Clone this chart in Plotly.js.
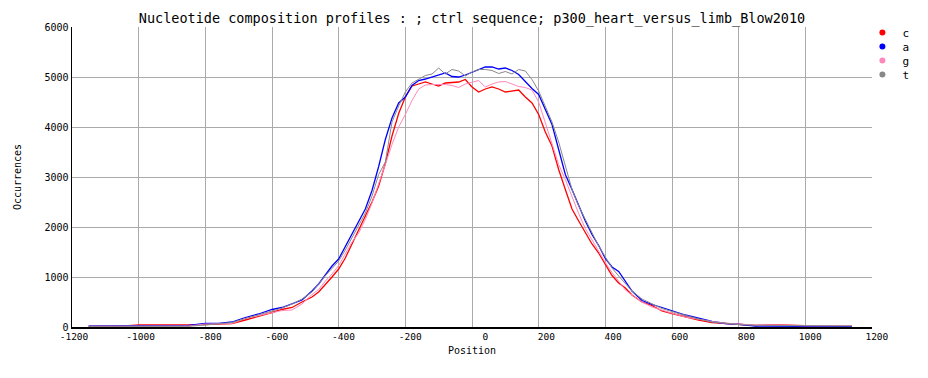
<!DOCTYPE html>
<html>
<head>
<meta charset="utf-8">
<script src="https://cdn.plot.ly/plotly-3.0.1.min.js"></script>
<style>body{margin:0;background:#fff}#chart{width:928px;height:378px}</style>
</head>
<body>
<div id="chart"></div>
<script>
const positions = [-1150,-1100,-1050,-1000,-950,-900,-850,-800,-760,-720,-680,-640,-600,-570,-540,-510,
  -480,-460,-440,-420,-400,-380,-360,-340,-320,-300,-280,-260,-240,-220,-200,-180,-160,-140,-120,-100,-80,-60,-40,-20,
  0,20,40,60,80,100,120,140,160,180,200,220,240,260,280,300,320,340,360,380,400,420,440,460,480,
  510,540,570,600,640,680,720,760,800,850,900,950,1000,1050,1100,1140];

const c_counts = [10,10,15,40,35,40,40,50,55,70,140,210,290,350,390,500,
  600,700,840,1000,1160,1380,1660,1940,2200,2500,2820,3270,3820,4270,4600,4820,4860,4900,4860,4820,4880,4890,4900,4950,
  4800,4700,4760,4800,4760,4700,4720,4740,4600,4480,4250,3900,3620,3150,2750,2360,2120,1900,1660,1480,1260,1030,880,780,640,
  500,430,320,270,200,140,90,70,45,30,45,30,15,15,10,10];

const a_counts = [20,20,20,20,25,25,30,70,70,100,190,260,350,390,460,540,
  720,860,1040,1220,1360,1610,1870,2120,2360,2730,3210,3750,4180,4480,4600,4830,4930,4960,5000,5030,5080,5010,5000,5040,
  5090,5150,5200,5200,5160,5180,5130,5050,4900,4770,4650,4350,4050,3550,3050,2750,2430,2120,1850,1630,1370,1200,1110,920,720,
  530,450,390,320,240,175,110,70,55,20,20,20,15,15,10,10];

const g_counts = [15,15,15,15,15,15,20,60,65,70,170,230,300,330,340,460,
  650,750,920,1060,1230,1460,1700,1880,2150,2480,2850,3250,3650,4000,4250,4530,4760,4840,4850,4850,4850,4830,4790,4860,
  4890,4930,4800,4860,4900,4910,4860,4810,4790,4740,4500,4080,3650,3250,2950,2600,2270,1970,1740,1510,1290,1090,910,740,640,
  500,400,330,275,200,150,110,75,55,40,45,30,25,25,30,30];

const t_counts = [15,15,15,15,15,15,15,40,60,90,170,240,320,380,460,560,
  700,860,1030,1170,1320,1540,1780,2020,2280,2620,3050,3300,4100,4420,4700,4880,4950,5030,5060,5180,5060,5150,5120,5020,
  5100,5150,5150,5130,5070,5110,5060,5150,5120,4950,4720,4420,4100,3700,3200,2750,2420,2150,1880,1620,1400,1180,1020,880,720,
  560,460,370,310,230,160,100,75,50,35,30,25,20,20,20,20];

const seriesNames = ['c','a','g','t'];
const seriesColors = ['#ff0000','#0000ff','#ff88bb','#888888'];
const seriesWidths = [1.3,1.3,1,1];
const seriesData = [c_counts,a_counts,g_counts,t_counts];

const xTicks = [-1200,-1000,-800,-600,-400,-200,0,200,400,600,800,1000,1200];
const yTicks = [0,1000,2000,3000,4000,5000,6000];

const mono = 'DejaVu Sans Mono, monospace';
// x tick labels are right-aligned just past their gridline in the original: pad to equal width
const padLabel = v => { let s = String(v); while (s.length < 5) s = '\u00a0' + s; return s; };

const legendIds = ['legend','legend2','legend3','legend4'];
const traces = [];
seriesNames.forEach((n,i)=>{
  traces.push({x:positions,y:seriesData[i],type:'scatter',mode:'lines',name:n,
    line:{color:seriesColors[i],width:seriesWidths[i]},showlegend:false});
});
seriesNames.forEach((n,i)=>{
  traces.push({x:[null],y:[null],type:'scatter',mode:'markers',name:n,legend:legendIds[i],
    marker:{color:seriesColors[i],size:6,symbol:'circle'},showlegend:true});
});

const legendStyle = (y)=>({x:0.988,xanchor:'left',y:y,yanchor:'top',
  font:{family:mono,size:11,color:'#000'},bgcolor:'rgba(0,0,0,0)',itemwidth:30});

const layout = {
  width:928,height:378,
  margin:{l:72,r:56,t:27,b:51,autoexpand:false},
  paper_bgcolor:'#fff',plot_bgcolor:'#fff',
  title:{text:'Nucleotide composition profiles : ; ctrl sequence; p300_heart_versus_limb_Blow2010',
    font:{family:mono,size:13.5,color:'#000'},x:0.5,xref:'paper',y:1-18/378,yref:'container',yanchor:'middle'},
  xaxis:{range:[-1200,1200],tickvals:xTicks,ticktext:xTicks.map(padLabel),ticklabelshift:2,showgrid:true,gridcolor:'#aaaaaa',gridwidth:1,
    zeroline:false,showline:true,linecolor:'#000',linewidth:2,ticks:'',
    tickfont:{family:mono,size:9.5,color:'#000'},
    title:{text:'Position',font:{family:mono,size:10,color:'#000'},standoff:6}},
  yaxis:{range:[0,6000],tickvals:yTicks,ticktext:yTicks.map(String),showgrid:true,gridcolor:'#aaaaaa',gridwidth:1,
    zeroline:false,showline:true,linecolor:'#000',linewidth:1.5,ticks:'',
    tickfont:{family:mono,size:10,color:'#000'},
    title:{text:'Occurrences',font:{family:mono,size:10,color:'#000'},standoff:21}},
  legend:legendStyle(1.03),
  legend2:legendStyle(0.9833),
  legend3:legendStyle(0.9367),
  legend4:legendStyle(0.89),
  showlegend:true
};
Plotly.newPlot('chart',traces,layout,{displayModeBar:false,staticPlot:true});
</script>
</body>
</html>
